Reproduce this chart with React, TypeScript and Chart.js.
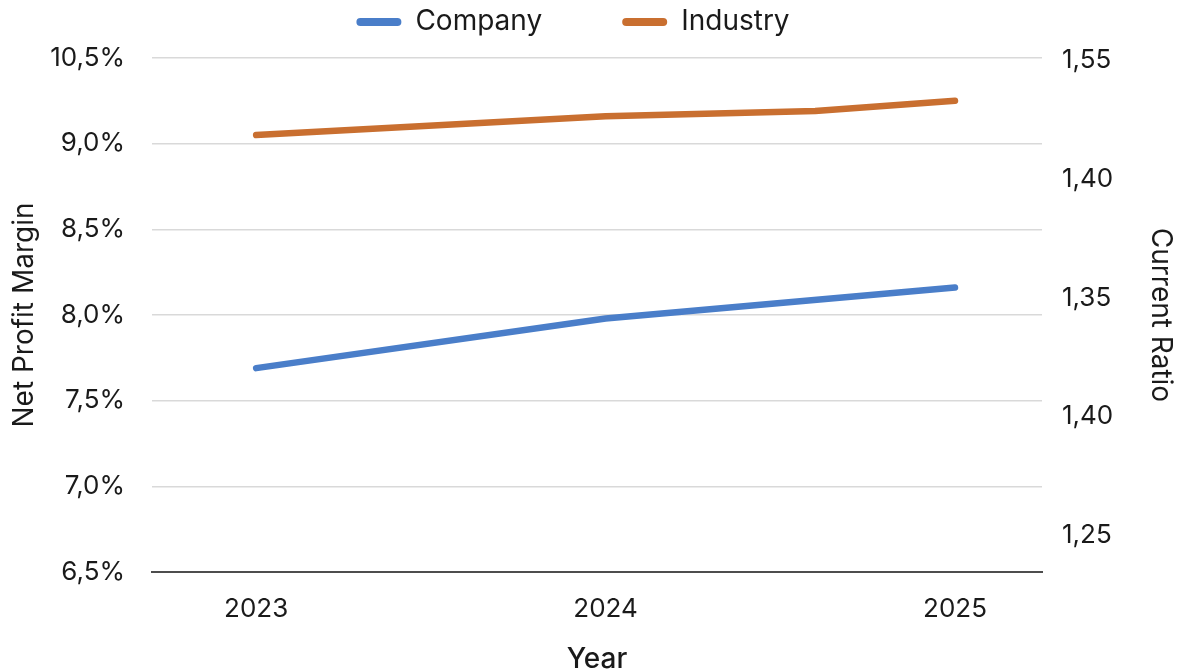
import React, { useEffect, useRef } from 'react';
import { Chart, registerables } from 'chart.js';

Chart.register(...registerables);

// ---- data ----
const YEARS = [2023, 2024, 2025];
const COMPANY_X = [2023, 2024, 2025];
const COMPANY_VALUES = [7.69, 7.98, 8.16];
const INDUSTRY_X = [2023, 2024, 2024.6, 2025];
const INDUSTRY_VALUES = [9.05, 9.16, 9.19, 9.25];
const LEFT_TICK_VALUES = [6.5, 7.0, 7.5, 8.0, 8.5, 9.0, 9.5];
const LEFT_TICK_LABELS = ['6,5%', '7,0%', '7,5%', '8,0%', '8,5%', '9,0%', '10,5%'];
const RIGHT_TICK_VALUES = [0, 1, 2, 3, 4];
const RIGHT_TICK_LABELS = ['1,25', '1,40', '1,35', '1,40', '1,55'];
const SERIES_NAMES = ['Company', 'Industry'];

// ---- styles ----
const FONT = 'Inter';
const TEXT = '#1a1a1a';
const BLUE = '#4a7ec9';
const ORANGE = '#c96f30';
const LEGEND_FONT = 28;
const LEGEND_PAD = 80;
const LAYOUT_TOP = -72;
const LEGEND_HEIGHT = 130;

const legendSizer = {
  id: 'legendSizer',
  beforeLayout(chart: any) {
    const lg = chart.legend;
    if (lg && !lg.__sized) {
      const orig = lg.fit.bind(lg);
      lg.fit = () => {
        orig();
        lg.height = LEGEND_HEIGHT;
      };
      lg.__sized = true;
    }
  },
};

export default function App() {
  const ref = useRef<HTMLCanvasElement>(null);

  useEffect(() => {
    if (!ref.current) return;
    Chart.defaults.font.family = FONT;
    Chart.defaults.color = TEXT;
    const chart = new Chart(ref.current, {
      type: 'line',
      data: {
        datasets: [
          {
            label: SERIES_NAMES[0],
            data: COMPANY_X.map((x, i) => ({ x, y: COMPANY_VALUES[i] })),
            borderColor: BLUE,
            backgroundColor: BLUE,
            borderWidth: 6.5,
            borderCapStyle: 'round',
            borderJoinStyle: 'round',
            pointRadius: 0,
            tension: 0,
            yAxisID: 'y',
          },
          {
            label: SERIES_NAMES[1],
            data: INDUSTRY_X.map((x, i) => ({ x, y: INDUSTRY_VALUES[i] })),
            borderColor: ORANGE,
            backgroundColor: ORANGE,
            borderWidth: 6.5,
            borderCapStyle: 'round',
            borderJoinStyle: 'round',
            pointRadius: 0,
            tension: 0,
            yAxisID: 'y',
          },
        ],
      },
      options: {
        responsive: false,
        animation: false,
        layout: { padding: { top: LAYOUT_TOP, left: -38, right: 0, bottom: 0 } },
        plugins: {
          tooltip: { enabled: false },
          legend: {
            position: 'top',
            labels: {
              font: { size: LEGEND_FONT },
              color: TEXT,
              boxWidth: 45,
              boxHeight: 8,
              padding: LEGEND_PAD,
              useBorderRadius: true,
              borderRadius: 4,
              generateLabels: (c: any) =>
                Chart.defaults.plugins.legend.labels
                  .generateLabels(c)
                  .map((l: any) => ({ ...l, lineWidth: 0 })),
            },
          },
        },
        scales: {
          x: {
            type: 'linear',
            min: 2022.702,
            max: 2025.249,
            afterBuildTicks: (s: any) => {
              s.ticks = YEARS.map((v) => ({ value: v }));
            },
            afterFit: (s: any) => {
              s.height = 99;
            },
            ticks: {
              callback: (v: any) => String(v),
              font: { size: 26 },
              color: TEXT,
              padding: 22,
              maxRotation: 0,
              autoSkip: false,
            },
            grid: { display: false, drawTicks: false },
            border: { display: true, color: '#4d4d4d', width: 2 },
            title: {
              display: true,
              text: 'Year',
              font: { size: 28, weight: 500 },
              color: TEXT,
              padding: { top: 0, bottom: -5 },
            },
          },
          y: {
            type: 'linear',
            position: 'left',
            min: 6.5,
            max: 9.5,
            afterBuildTicks: (s: any) => {
              s.ticks = LEFT_TICK_VALUES.map((v) => ({ value: v }));
            },
            afterFit: (s: any) => {
              s.width = 190;
            },
            ticks: {
              callback: (_v: any, i: number) => LEFT_TICK_LABELS[i],
              font: { size: 26 },
              color: TEXT,
              padding: 27,
            },
            grid: {
              color: (ctx: any) => (ctx.tick && ctx.tick.value === 6.5 ? 'rgba(0,0,0,0)' : '#d9d9d9'),
              lineWidth: 1.5,
              drawTicks: false,
            },
            border: { display: false },
            title: {
              display: true,
              text: 'Net Profit Margin',
              font: { size: 28 },
              color: TEXT,
              padding: { top: 46, bottom: 0 },
            },
          },
          y1: {
            type: 'linear',
            display: true,
            position: 'right',
            min: -0.31,
            max: 4.02,
            afterBuildTicks: (s: any) => {
              s.ticks = RIGHT_TICK_VALUES.map((v) => ({ value: v }));
            },
            afterFit: (s: any) => {
              s.width = 142;
            },
            ticks: {
              callback: (_v: any, i: number) => RIGHT_TICK_LABELS[i],
              font: { size: 26 },
              color: TEXT,
              padding: 20,
            },
            grid: { display: false, drawTicks: false },
            border: { display: false },
            title: {
              display: true,
              text: 'Current Ratio',
              font: { size: 28 },
              color: TEXT,
              padding: { top: 7, bottom: 0 },
            },
          },
        },
      } as any,
      plugins: [legendSizer],
    });
    return () => chart.destroy();
  }, []);

  return (
    <div style={{ position: 'absolute', left: 0, top: 0, width: 1184, height: 671, background: '#fff' }}>
      <canvas ref={ref} width={1184} height={671} style={{ display: 'block' }} />
    </div>
  );
}
